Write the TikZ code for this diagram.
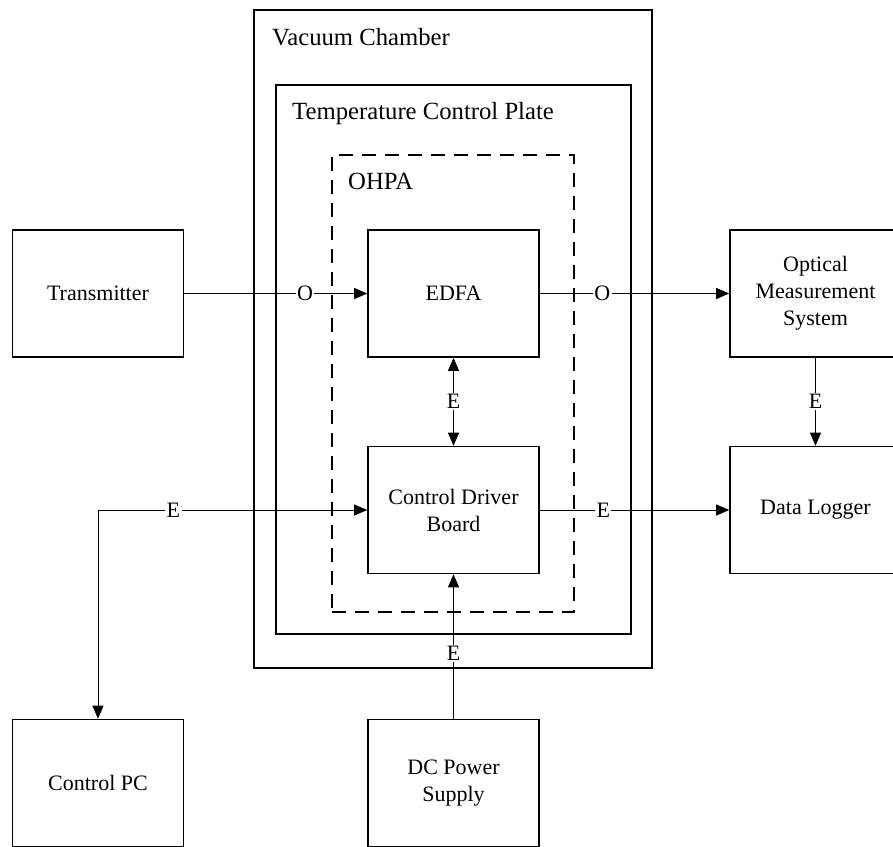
\documentclass[tikz,border=0pt]{standalone}
\usepackage{fontspec}
\setmainfont{Liberation Serif}
\usetikzlibrary{arrows.meta}
\begin{document}
\begin{tikzpicture}[x=1pt,y=-1pt,
  box/.style={draw, line width=1.6pt, minimum width=171pt, minimum height=127pt, align=center, inner sep=0pt, font=\fontsize{22}{27}\selectfont},
  frame/.style={draw, line width=1.6pt, inner sep=0pt},
  title/.style={anchor=base west, inner sep=0pt, font=\fontsize{24.7}{29}\selectfont},
  conn/.style={line width=0.8pt, -{Triangle[length=13pt,width=11pt]}},
  bconn/.style={line width=0.8pt, {Triangle[length=13pt,width=11pt]}-{Triangle[length=13pt,width=11pt]}},
  lab/.style={fill=white, inner sep=1.5pt, font=\fontsize{22}{26}\selectfont}]
\useasboundingbox (0,0) rectangle (893,846);
\clip (0,0) rectangle (893,846);
\fill[white] (0,0) rectangle (893,846);
% containers
\node[frame, minimum width=398pt, minimum height=658pt] (vc) at (453,339) {};
\node[frame, minimum width=355pt, minimum height=549pt] (tcp) at (453.5,359.5) {};
\node[draw, line width=2.6pt, dash pattern=on 14pt off 9pt, minimum width=242pt, minimum height=457pt, inner sep=0pt] (ohpa) at (453,383.5) {};
\node[title] (vct) at (272,45) {Vacuum Chamber};
\node[title] (tcpt) at (292,119) {Temperature Control Plate};
\node[title] (ohpat) at (348,189) {OHPA};
% boxes
\node[box] (tx) at (98,293.5) {Transmitter};
\node[box] (edfa) at (453.5,293.5) {EDFA};
\node[box] (cdb) at (453.5,510) {Control Driver\\Board};
\node[box] (oms) at (815.5,293.5) {Optical\\Measurement\\System};
\node[box] (dl) at (815.5,510) {Data Logger};
\node[box] (pc) at (98,783) {Control PC};
\node[box] (dc) at (453.5,783) {DC Power\\Supply};
% connectors
\draw[conn] (tx.east) -- node[lab, pos=0.66] {O} (edfa.west);
\draw[conn] (edfa.east) -- node[lab, pos=0.33] {O} (oms.west);
\draw[conn] (oms.south) -- node[lab, pos=0.5] {E} (dl.north);
\draw[bconn] (edfa.south) -- node[lab, pos=0.5] {E} (cdb.north);
\draw[bconn] (cdb.west) -| node[lab, pos=0.36] {E} (pc.north);
\draw[conn] (cdb.east) -- node[lab, pos=0.335] {E} (dl.west);
\draw[conn] (dc.north) -- node[lab, pos=0.45] {E} (cdb.south);
\end{tikzpicture}
\end{document}
